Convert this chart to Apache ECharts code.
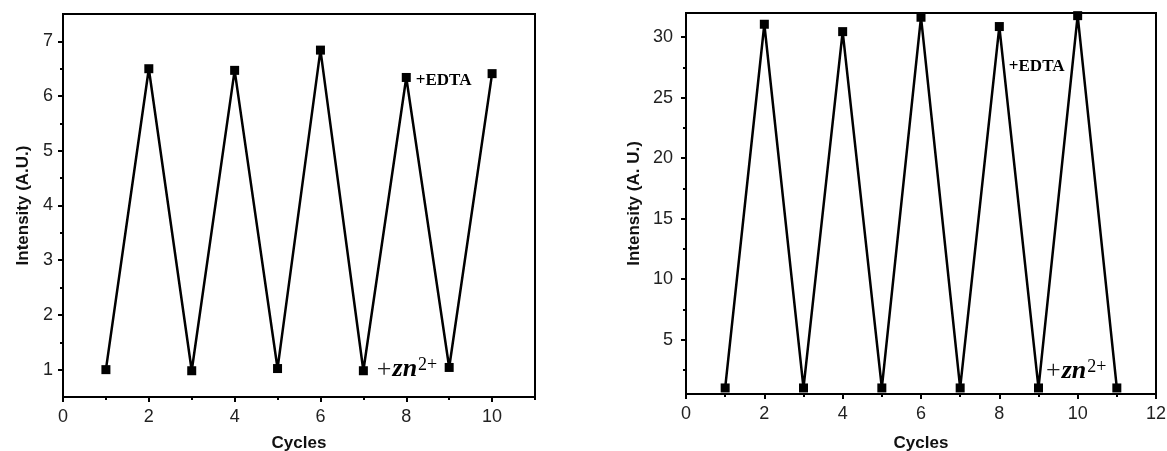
<!DOCTYPE html>
<html>
<head>
<meta charset="utf-8">
<script src="https://cdn.jsdelivr.net/npm/echarts@6/dist/echarts.min.js"></script>
<style>
html,body{margin:0;padding:0;background:#fff;}
#c{width:1167px;height:451px;}
</style>
</head>
<body>
<div id="c"></div>
<script>
// ---- data ----
const cyclesA = [1, 2, 3, 4, 5, 6, 7, 8, 9, 10];
const intensityA = [1.0, 6.5, 0.98, 6.47, 1.02, 6.84, 0.98, 6.34, 1.04, 6.41];
const cyclesB = [1, 2, 3, 4, 5, 6, 7, 8, 9, 10, 11];
const intensityB = [1.0, 31.07, 1.0, 30.46, 1.0, 31.65, 1.0, 30.88, 1.0, 31.78, 1.0];
const yTicksA = [1, 2, 3, 4, 5, 6, 7];
const yMinorA = [1.5, 2.5, 3.5, 4.5, 5.5, 6.5];
const yTicksB = [5, 10, 15, 20, 25, 30];
const yMinorB = [2.5, 7.5, 12.5, 17.5, 22.5, 27.5];
const xTitle = 'Cycles';
const yTitleA = 'Intensity (A.U.)';
const yTitleB = 'Intensity (A. U.)';
const noteEDTA = '+EDTA';

const FONT = 'Liberation Sans';
const chart = echarts.init(document.getElementById('c'), null, {renderer: 'canvas'});

function pts(xs, ys) { return xs.map((x, i) => [x, ys[i]]); }

const edtaLabel = (offset) => ({
  show: true, position: 'right', offset: offset,
  formatter: noteEDTA,
  fontFamily: 'Liberation Serif', fontWeight: 'bold', fontSize: 17, color: '#000'
});
const znLabel = (offset) => ({
  show: true, position: 'right', offset: offset,
  formatter: '{p|+}{z|zn}{s|2+}',
  rich: {
    p: {fontFamily: 'Liberation Serif', fontSize: 26, color: '#222', padding: [0, 1, 0, 0]},
    z: {fontFamily: 'Liberation Serif', fontStyle: 'italic', fontWeight: 'bold', fontSize: 26, color: '#000'},
    s: {fontFamily: 'Liberation Serif', fontSize: 18, color: '#000', verticalAlign: 'top', padding: [0, 0, 0, 1]}
  }
});

function buildData(xs, ys, edtaIdx, edtaOff, znIdx, znOff) {
  return pts(xs, ys).map((p, i) => {
    const o = {value: p};
    if (i === edtaIdx) o.label = edtaLabel(edtaOff);
    if (i === znIdx) o.label = znLabel(znOff);
    return o;
  });
}

const axisLineStyle = {lineStyle: {color: '#000', width: 2}};
const labelStyle = {color: '#222', fontFamily: FONT, fontSize: 18};
const nameStyle = {color: '#111', fontFamily: FONT, fontSize: 17, fontWeight: 'bold'};

const option = {
  animation: false,
  backgroundColor: '#fff',
  grid: [
    {left: 63, top: 14, width: 472, height: 383, show: true, borderColor: '#000', borderWidth: 2, containLabel: false, outerBoundsMode: 'none'},
    {left: 686, top: 13, width: 470, height: 381, show: true, borderColor: '#000', borderWidth: 2, containLabel: false, outerBoundsMode: 'none'}
  ],
  xAxis: [
    {gridIndex: 0, type: 'value', min: 0, max: 11, interval: 2,
     name: xTitle, nameLocation: 'middle', nameGap: 38, nameTextStyle: nameStyle,
     axisLine: axisLineStyle, axisTick: {length: 5, lineStyle: {color: '#000', width: 2}},
     axisLabel: Object.assign({margin: 11, showMaxLabel: false}, labelStyle), splitLine: {show: false}},
    {gridIndex: 0, type: 'value', min: 0, max: 11, interval: 1, position: 'bottom',
     axisLine: {show: false}, axisTick: {length: 3, lineStyle: {color: '#000', width: 2}},
     axisLabel: {show: false}, splitLine: {show: false}},
    {gridIndex: 1, type: 'value', min: 0, max: 12, interval: 2,
     name: xTitle, nameLocation: 'middle', nameGap: 41, nameTextStyle: nameStyle,
     axisLine: axisLineStyle, axisTick: {length: 5, lineStyle: {color: '#000', width: 2}},
     axisLabel: Object.assign({margin: 11}, labelStyle), splitLine: {show: false}},
    {gridIndex: 1, type: 'value', min: 0, max: 12, interval: 1, position: 'bottom',
     axisLine: {show: false}, axisTick: {length: 3, lineStyle: {color: '#000', width: 2}},
     axisLabel: {show: false}, splitLine: {show: false}}
  ],
  yAxis: [
    {gridIndex: 0, type: 'value', min: 0.5, max: 7.5,
     name: yTitleA, nameLocation: 'middle', nameGap: 31, nameTextStyle: nameStyle,
     axisLine: axisLineStyle,
     axisTick: {length: 5, customValues: yTicksA, lineStyle: {color: '#000', width: 2}},
     axisLabel: Object.assign({margin: 10, customValues: yTicksA}, labelStyle), splitLine: {show: false}},
    {gridIndex: 0, type: 'value', min: 0.5, max: 7.5, position: 'left',
     axisLine: {show: false},
     axisTick: {length: 3, customValues: yMinorA, lineStyle: {color: '#000', width: 2}},
     axisLabel: {show: false, customValues: yMinorA}, splitLine: {show: false}},
    {gridIndex: 1, type: 'value', min: 0.5, max: 32,
     name: yTitleB, nameLocation: 'middle', nameGap: 43, nameTextStyle: nameStyle,
     axisLine: axisLineStyle,
     axisTick: {length: 5, customValues: yTicksB, lineStyle: {color: '#000', width: 2}},
     axisLabel: Object.assign({margin: 13, customValues: yTicksB}, labelStyle), splitLine: {show: false}},
    {gridIndex: 1, type: 'value', min: 0.5, max: 32, position: 'left',
     axisLine: {show: false},
     axisTick: {length: 3, customValues: yMinorB, lineStyle: {color: '#000', width: 2}},
     axisLabel: {show: false, customValues: yMinorB}, splitLine: {show: false}}
  ],
  series: [
    {type: 'line', xAxisIndex: 0, yAxisIndex: 0,
     data: buildData(cyclesA, intensityA, 7, [0, 3], 6, [4, -1]),
     symbol: 'rect', symbolSize: 9, showAllSymbol: true,
     lineStyle: {color: '#000', width: 2.5}, itemStyle: {color: '#000'}},
    {type: 'line', xAxisIndex: 2, yAxisIndex: 2,
     data: buildData(cyclesB, intensityB, 7, [0, 40], 8, [-2, -17]),
     symbol: 'rect', symbolSize: 9, showAllSymbol: true,
     lineStyle: {color: '#000', width: 2.5}, itemStyle: {color: '#000'}}
  ]
};
chart.setOption(option);
</script>
</body>
</html>
